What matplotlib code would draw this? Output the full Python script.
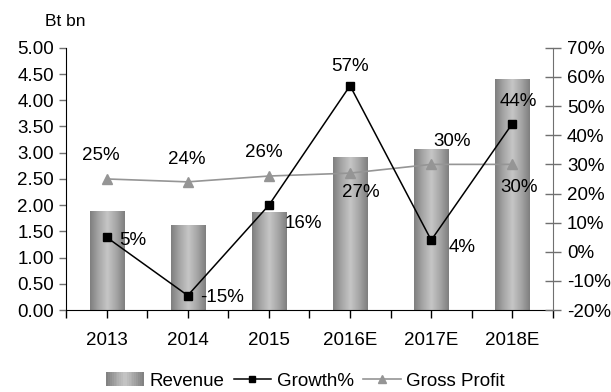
import numpy as np
import matplotlib
matplotlib.use("Agg")
import matplotlib.pyplot as plt
from matplotlib.colors import LinearSegmentedColormap
from matplotlib.legend_handler import HandlerBase
from matplotlib.lines import Line2D
from matplotlib.patches import Rectangle

plt.rcParams['font.family'] = ['Liberation Sans', 'DejaVu Sans']
plt.rcParams['axes.unicode_minus'] = False

years = ['2013', '2014', '2015', '2016E', '2017E', '2018E']
revenue = [1.89, 1.62, 1.87, 2.92, 3.07, 4.41]
growth = [5, -15, 16, 57, 4, 44]
gross_profit = [25, 24, 26, 27, 30, 30]

# label offsets in points (dx, dy)
growth_offsets = [(19, -2), (25, -1.5), (25, -13), (0, 14), (22, -5), (4, 16)]
gp_offsets = [(-4, 17), (-1, 16), (-3.5, 17), (8, -14), (15, 16.5), (5, -16.5)]

FS = 13.5

bar_cmap = LinearSegmentedColormap.from_list(
    'cyl', ['#7e7e7e', '#a6a6a6', '#c6c6c6', '#a6a6a6', '#7e7e7e'])

fig = plt.figure(figsize=(6.11, 3.92), dpi=100)
ax = fig.add_axes([0.108, 0.209, 0.797, 0.669])
ax2 = ax.twinx()

x = np.arange(len(years))
bars = ax.bar(x, revenue, width=0.42, color='none', edgecolor='none', zorder=1)
grad = np.linspace(0, 1, 256).reshape(1, -1)
for b in bars:
    x0, y0 = b.get_x(), b.get_y()
    im = ax.imshow(grad, cmap=bar_cmap, aspect='auto', zorder=1,
                   extent=[x0, x0 + b.get_width(), y0, y0 + b.get_height()])
    im.set_clip_path(b)

ax.set_xlim(-0.5, len(years) - 0.5)
ax.set_ylim(0, 5)
ax.set_yticks(np.arange(0, 5.01, 0.5))
ax.set_yticklabels([f'{v:.2f}' for v in np.arange(0, 5.01, 0.5)])
ax.set_xticks(x)
ax.set_xticklabels(years)
ax.set_xticks(np.arange(-0.5, len(years), 1.0), minor=True)
ax.tick_params(axis='x', which='both', direction='out', length=6, width=1,
               labelsize=FS, pad=10)
ax.tick_params(axis='y', direction='out', length=5, width=1, labelsize=FS,
               color='#707070')
ax.spines['top'].set_visible(False)
ax.spines['right'].set_visible(False)

ax2.plot(x, growth, color='black', lw=1.1, marker='s', ms=6, zorder=3)
ax2.plot(x, gross_profit, color='#959595', lw=1.2, marker='^', ms=7,
         zorder=2)
ax2.set_ylim(-20, 70)
ax2.set_yticks(np.arange(-20, 71, 10))
ax2.set_yticklabels([f'{v}%' for v in range(-20, 71, 10)])
ax2.tick_params(axis='y', direction='inout', length=12, width=1,
                color='#707070', labelsize=FS, pad=4)
for s in ['top', 'left', 'bottom']:
    ax2.spines[s].set_visible(False)
ax2.spines['right'].set_color('#707070')

for i, v in enumerate(growth):
    dx, dy = growth_offsets[i]
    ax2.annotate(f'{v}%', (x[i], v), xytext=(dx, dy), textcoords='offset points',
                 ha='center', va='center', fontsize=FS)
for i, v in enumerate(gross_profit):
    dx, dy = gp_offsets[i]
    ax2.annotate(f'{v}%', (x[i], v), xytext=(dx, dy), textcoords='offset points',
                 ha='center', va='center', fontsize=FS)

fig.text(0.073, 0.945, 'Bt bn', fontsize=12.5, ha='left', va='center')


class GradientHandler(HandlerBase):
    def create_artists(self, legend, orig_handle, xdescent, ydescent,
                       width, height, fontsize, trans):
        n = 20
        out = []
        for k in range(n):
            c = bar_cmap((k + 0.5) / n)
            r = Rectangle((-xdescent + k * width / n, -ydescent), width / n,
                          height, facecolor=c, edgecolor='none',
                          transform=trans)
            out.append(r)
        return out


rev_handle = Rectangle((0, 0), 1, 1)
growth_handle = Line2D([], [], color='black', lw=1.1, marker='s', ms=5)
gp_handle = Line2D([], [], color='#959595', lw=1.2, marker='^', ms=6)
fig.legend([rev_handle, growth_handle, gp_handle],
           ['Revenue', 'Growth%', 'Gross Profit'],
           handler_map={Rectangle: GradientHandler()},
           loc='center', bbox_to_anchor=(0.5, 0.028), ncol=3, frameon=False,
           fontsize=FS, handlelength=2.0, handletextpad=0.3, columnspacing=0.5)

fig.savefig('out.png', dpi=100)
